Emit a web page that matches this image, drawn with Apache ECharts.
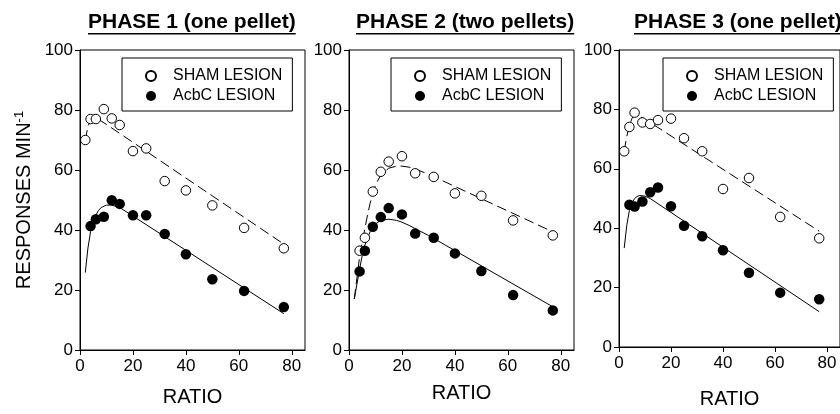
<!DOCTYPE html>
<html><head><meta charset="utf-8">
<script src="https://cdn.jsdelivr.net/npm/echarts@6/dist/echarts.min.js"></script>
<style>html,body{margin:0;padding:0;background:#fff}#c{width:840px;height:414px}</style>
</head><body><div id="c"></div>
<script>
// ---- data ----
const titles = ['PHASE 1 (one pellet)', 'PHASE 2 (two pellets)', 'PHASE 3 (one pellet)'];
const xTickValues = [0, 20, 40, 60, 80];
const legendNames = ['SHAM LESION', 'AcbC LESION'];

const shamRatios1 = [2, 4, 6, 9, 12, 15, 20, 25, 32, 40, 50, 62, 77];
const sham1 = [70, 77, 77, 80.3, 77.2, 75, 66.3, 67.2, 56.3, 53.2, 48.2, 40.7, 33.9];
const acbcRatios1 = [4, 6, 9, 12, 15, 20, 25, 32, 40, 50, 62, 77];
const acbc1 = [41.3, 43.6, 44.4, 49.9, 48.7, 44.9, 44.9, 38.7, 31.9, 23.6, 19.7, 14.3];
const shamFitX1 = [2, 3, 4, 5, 6, 8, 10, 15, 77];
const shamFitY1 = [70, 74.5, 76.8, 77.5, 77.2, 76.3, 75.2, 72.2, 35.3];
const acbcFitX1 = [2, 3, 4, 5, 6, 7, 8, 10, 12, 15, 77];
const acbcFitY1 = [25.8, 34, 39.5, 43, 45, 46.5, 47.5, 48.3, 48.3, 47.5, 12.1];

const shamRatios2 = [4, 6, 9, 12, 15, 20, 25, 32, 40, 50, 62, 77];
const sham2 = [33.1, 37.4, 52.8, 59.4, 62.8, 64.6, 58.9, 57.7, 52.2, 51.4, 43.2, 38.2];
const acbcRatios2 = [4, 6, 9, 12, 15, 20, 25, 32, 40, 50, 62, 77];
const acbc2 = [26.2, 33.1, 41.1, 44.3, 47.3, 45.2, 38.8, 37.4, 32.2, 26.3, 18.3, 13.2];
const shamFitX2 = [2, 3, 4, 5, 6, 7, 8, 10, 12, 15, 18, 20, 23, 26, 30, 77];
const shamFitY2 = [17, 24, 31, 36, 40.5, 45, 49, 55, 58.3, 60.6, 61.3, 61.3, 60.9, 60, 58.6, 39.4];
const acbcFitX2 = [2, 3, 4, 5, 6, 8, 10, 12, 15, 18, 20, 23, 26, 30, 77];
const acbcFitY2 = [17, 22, 27, 31.5, 35, 39.5, 42, 43.2, 43.6, 43.2, 42.6, 41.4, 40, 38.2, 14.4];

const shamRatios3 = [2, 4, 6, 9, 12, 15, 20, 25, 32, 40, 50, 62, 77];
const sham3 = [65.9, 74.1, 78.9, 75.6, 75.1, 76.4, 76.9, 70.3, 65.9, 53.2, 56.9, 43.8, 36.6];
const acbcRatios3 = [4, 6, 9, 12, 15, 20, 25, 32, 40, 50, 62, 77];
const acbc3 = [47.9, 47.3, 49, 52.1, 53.7, 47.4, 40.8, 37.3, 32.6, 25, 18.3, 16.1];
const shamFitX3 = [2, 3, 4, 5, 6, 7, 8, 10, 77];
const shamFitY3 = [66, 71, 74.5, 77, 78.2, 78.1, 77.6, 76.7, 39];
const acbcFitX3 = [2, 3, 4, 5, 6, 7, 8, 10, 12, 77];
const acbcFitY3 = [33.3, 41, 46, 48.5, 50, 50.7, 51, 50.8, 50, 11.9];

// ---- layout / style ----
const FONT = 'Liberation Sans, Arial, sans-serif';
const gridLefts = [80, 349, 619];
const titleLefts = [88, 356, 634];
const legendLefts = [122, 391, 663];
const xNameGaps = [37, 33, 42];
const TITLE_SIZE = 21;

const zip = (xs, ys) => xs.map((x, i) => [x, ys[i]]);
const panels = [
  {sx: shamRatios1, sy: sham1, ax: acbcRatios1, ay: acbc1, fsx: shamFitX1, fsy: shamFitY1, fax: acbcFitX1, fay: acbcFitY1},
  {sx: shamRatios2, sy: sham2, ax: acbcRatios2, ay: acbc2, fsx: shamFitX2, fsy: shamFitY2, fax: acbcFitX2, fay: acbcFitY2},
  {sx: shamRatios3, sy: sham3, ax: acbcRatios3, ay: acbc3, fsx: shamFitX3, fsy: shamFitY3, fax: acbcFitX3, fay: acbcFitY3}
];

const ctx = document.createElement('canvas').getContext('2d');
ctx.font = 'bold ' + TITLE_SIZE + 'px ' + FONT;

const grid = [], xAxis = [], yAxis = [], series = [], title = [], legend = [], graphic = [];
panels.forEach((p, i) => {
  grid.push({left: gridLefts[i], top: 50, width: 225, height: 300, show: true, borderColor: '#000', borderWidth: 1, containLabel: false});
  xAxis.push({
    gridIndex: i, type: 'value', min: 0, max: 85, interval: 20,
    axisLine: {show: true, onZero: false, lineStyle: {color: '#000', width: 1}},
    axisTick: {show: true, length: 5, customValues: xTickValues, lineStyle: {color: '#000'}},
    axisLabel: {customValues: xTickValues, fontSize: 17, color: '#000', fontFamily: FONT, margin: 8},
    splitLine: {show: false},
    name: 'RATIO', nameLocation: 'middle', nameGap: xNameGaps[i],
    nameTextStyle: {fontSize: 20, color: '#000', fontFamily: FONT}
  });
  const ya = {
    gridIndex: i, type: 'value', min: 0, max: 100, interval: 20,
    axisLine: {show: true, onZero: false, lineStyle: {color: '#000', width: 1}},
    axisTick: {show: true, length: 5, lineStyle: {color: '#000'}},
    axisLabel: {fontSize: 17, color: '#000', fontFamily: FONT, margin: 7},
    splitLine: {show: false}
  };
  if (i === 0) {
    ya.name = '{a|RESPONSES MIN}{s|-1}';
    ya.nameLocation = 'middle';
    ya.nameGap = 44;
    ya.nameTextStyle = {
      color: '#000', fontFamily: FONT,
      rich: {
        a: {fontSize: 20, fontFamily: FONT, color: '#000'},
        s: {fontSize: 13, fontFamily: FONT, color: '#000', verticalAlign: 'top', padding: [0, 0, 10, 0]}
      }
    };
  }
  yAxis.push(ya);

  series.push({
    name: 'sham fit ' + (i + 1), type: 'line', xAxisIndex: i, yAxisIndex: i,
    data: zip(p.fsx, p.fsy), showSymbol: false, smooth: false,
    lineStyle: {color: '#000', width: 1, type: [10, 5]}, z: 2, silent: true
  });
  series.push({
    name: 'acbc fit ' + (i + 1), type: 'line', xAxisIndex: i, yAxisIndex: i,
    data: zip(p.fax, p.fay), showSymbol: false, smooth: false,
    lineStyle: {color: '#000', width: 1}, z: 2, silent: true
  });
  series.push({
    name: legendNames[0], type: 'scatter', xAxisIndex: i, yAxisIndex: i,
    data: zip(p.sx, p.sy), symbol: 'circle', symbolSize: 9.5,
    itemStyle: {color: '#fff', borderColor: '#000', borderWidth: 1, opacity: 1}, z: 3
  });
  series.push({
    name: legendNames[1], type: 'scatter', xAxisIndex: i, yAxisIndex: i,
    data: zip(p.ax, p.ay), symbol: 'circle', symbolSize: 10.5,
    itemStyle: {color: '#000', borderWidth: 0, opacity: 1}, z: 3
  });

  title.push({
    text: titles[i], left: titleLefts[i], top: 12, padding: 0,
    textStyle: {fontSize: TITLE_SIZE, fontWeight: 'bold', color: '#000', fontFamily: FONT}
  });
  const w = ctx.measureText(titles[i]).width;
  graphic.push({type: 'rect', left: titleLefts[i], top: 33, shape: {width: w, height: 1.6}, style: {fill: '#000'}});

  legend.push({
    left: legendLefts[i], top: 58, orient: 'vertical', data: legendNames,
    borderColor: '#000', borderWidth: 1, padding: [10, 10, 7, 23], itemGap: 4,
    itemWidth: 10, itemHeight: 10, selectedMode: false,
    textStyle: {fontSize: 16, fontFamily: FONT, color: '#000', padding: [0, 0, 0, 12]}
  });
});

const chart = echarts.init(document.getElementById('c'));
chart.setOption({
  animation: false, backgroundColor: '#fff',
  title, legend, grid, xAxis, yAxis, series, graphic
});
</script></body></html>
